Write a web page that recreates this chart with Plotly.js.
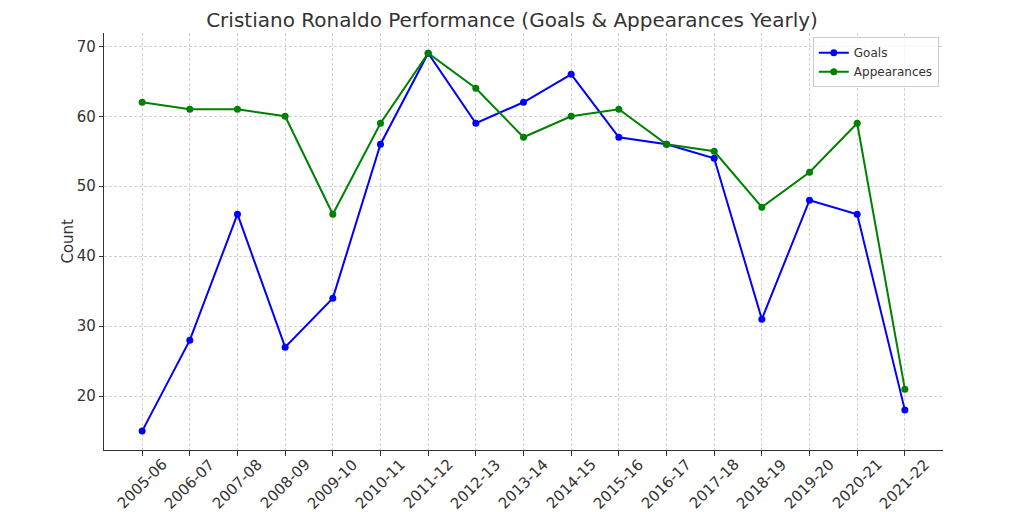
<!DOCTYPE html>
<html><head><meta charset="utf-8">
<script src="https://cdn.plot.ly/plotly-3.0.1.min.js"></script>
<style>body{margin:0;background:#fff}#c{width:1024px;height:512px}</style>
</head><body><div id="c"></div>
<script>
const seasons = ["2005-06","2006-07","2007-08","2008-09","2009-10","2010-11","2011-12","2012-13","2013-14","2014-15","2015-16","2016-17","2017-18","2018-19","2019-20","2020-21","2021-22"];
const goals = [15,28,46,27,34,56,69,59,62,66,57,56,54,31,48,46,18];
const appearances = [62,61,61,60,46,59,69,64,57,60,61,56,55,47,52,59,21];
const yTicks = [20,30,40,50,60,70];

const traces = [
 {x: seasons, y: goals, name: "Goals", type: "scatter", mode: "lines+markers",
  line: {color: "#0000ff", width: 2}, marker: {color: "#0000ff", size: 7}},
 {x: seasons, y: appearances, name: "Appearances", type: "scatter", mode: "lines+markers",
  line: {color: "#008000", width: 2}, marker: {color: "#008000", size: 7}}
];
// season labels centred under their ticks, rotated 45 degrees
const seasonLabels = seasons.map(s => ({
 x: s, xref: "x", y: 0, yref: "paper", text: s, showarrow: false,
 textangle: -45, xanchor: "center", yanchor: "middle", yshift: -34,
 font: {size: 15, color: "#333"}
}));
const layout = {
 width: 1024, height: 512,
 margin: {l: 104, r: 81, t: 33, b: 62},
 paper_bgcolor: "#fff", plot_bgcolor: "#fff",
 font: {family: "DejaVu Sans", color: "#333", size: 15},
 title: {text: "Cristiano Ronaldo Performance (Goals & Appearances Yearly)", x: 0.5, xanchor: "center", y: 0.975, yanchor: "top", font: {size: 20, color: "#333"}},
 xaxis: {type: "category", range: [-0.8, 16.8], showticklabels: false, showline: true, linecolor: "#333", linewidth: 1.2,
  ticks: "outside", ticklen: 5, tickcolor: "#333", showgrid: true, gridcolor: "#d2d2d2", griddash: "3px,2px", gridwidth: 0.8,
  zeroline: false, automargin: false},
 yaxis: {range: [12.3, 71.9], tickvals: yTicks, showline: true, linecolor: "#333", linewidth: 1.2,
  ticks: "outside", ticklen: 4, tickcolor: "#333", showgrid: true, gridcolor: "#d2d2d2", griddash: "3px,2px", gridwidth: 0.8,
  tickfont: {size: 15, color: "#333"}, zeroline: false, automargin: false},
 annotations: seasonLabels.concat([{
  text: "Count", xref: "paper", yref: "paper", x: -0.044, y: 0.5, xanchor: "center", yanchor: "middle",
  textangle: -90, showarrow: false, font: {size: 15, color: "#333"}
 }]),
 legend: {x: 0.995, xanchor: "right", y: 0.99, yanchor: "top", bgcolor: "rgba(255,255,255,0.8)", bordercolor: "#ccc", borderwidth: 1,
  font: {size: 12, color: "#333"}, tracegroupgap: 0},
 showlegend: true
};
Plotly.newPlot("c", traces, layout, {displayModeBar: false});
</script></body></html>
